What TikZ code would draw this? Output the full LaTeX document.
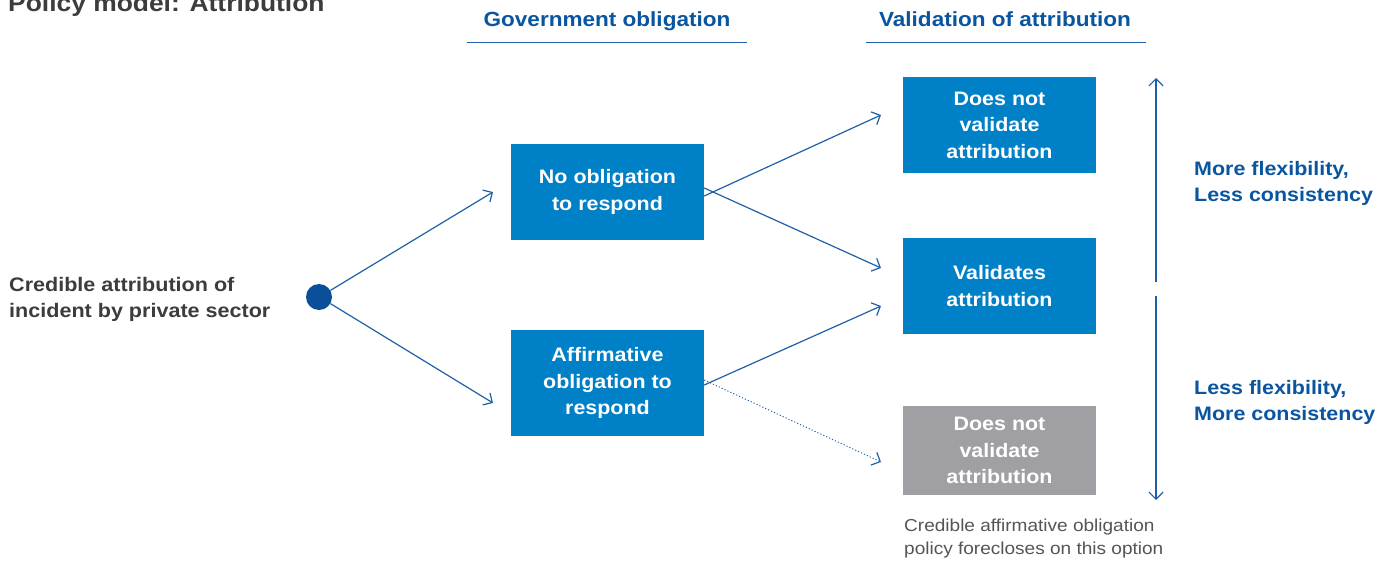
\documentclass[tikz,border=0pt]{standalone}
\usepackage{fontspec}
\setmainfont{Liberation Sans}[FakeStretch=1.1]
\usetikzlibrary{arrows.meta}
\definecolor{boxblue}{HTML}{0080C6}
\definecolor{boxgray}{HTML}{A0A0A4}
\definecolor{linkblue}{HTML}{1F5FA8}
\definecolor{dotblue}{HTML}{0A4F9A}
\definecolor{headblue}{HTML}{0A55A0}
\definecolor{darktext}{HTML}{3C3C3C}
\definecolor{notegray}{HTML}{555555}
\tikzset{
  stepbox/.style={fill=boxblue, text=white, minimum width=193pt, align=center, inner sep=0pt,
    font=\fontsize{19.5}{26.5}\selectfont\bfseries},
  graybox/.style={stepbox, fill=boxgray},
  link/.style={draw=linkblue, line width=1.2pt, -{Straight Barb[length=7pt,width=14pt,line width=1.2pt]}},
  header/.style={text=headblue, font=\fontsize{20.5}{24}\selectfont\bfseries, anchor=base},
  rule/.style={draw=linkblue, line width=0.8pt},
  sidelabel/.style={text=headblue, font=\fontsize{19.5}{26.5}\selectfont\bfseries, align=left, anchor=north west, inner sep=0pt},
}
\begin{document}
\begin{tikzpicture}[x=1pt,y=-1pt]
\useasboundingbox (0,0) rectangle (1393,560);
% title (cropped as in the reference)
\node[anchor=base west, inner sep=0pt, text=darktext, font=\fontsize{24}{28}\selectfont\bfseries] (title) at (8,11) {Policy model: Attribution};
% headers
\node[header] (h1) at (607,26) {Government obligation};
\node[header] (h2) at (1005,26) {Validation of attribution};
\coordinate (h1a) at (467,42); \coordinate (h1b) at (747,42);
\coordinate (h2a) at (866,42); \coordinate (h2b) at (1146,42);
\draw[rule] (h1a) -- (h1b);
\draw[rule] (h2a) -- (h2b);
% start
\node[anchor=north west, inner sep=0pt, align=left, text=darktext, font=\fontsize{19.6}{26.5}\selectfont\bfseries] (src) at (9,277) {Credible attribution of\\incident by private sector};
\node[circle, fill=dotblue, minimum size=26pt, inner sep=0pt] (dot) at (319,297) {};
% boxes
\node[stepbox, minimum height=96pt] (no) at (607.5,192) {No obligation\\to respond};
\node[stepbox, minimum height=106pt] (aff) at (607.5,383) {Affirmative\\obligation to\\respond};
\node[stepbox, minimum height=96pt] (dnv) at (999.5,125) {Does not\\validate\\attribution};
\node[stepbox, minimum height=96pt] (val) at (999.5,286) {Validates\\attribution};
\node[graybox, minimum height=89pt] (dnv2) at (999.5,450.5) {Does not\\validate\\attribution};
% arrows
\coordinate (e1) at (493,192);
\coordinate (e2) at (493,403);
\coordinate (e3) at (881,115);
\coordinate (e4) at (881,268);
\coordinate (e5) at (881,306);
\coordinate (e6) at (881,462);
\draw[link] (dot.30) -- (e1);
\draw[link] (dot.-30) -- (e2);
\draw[link] ([yshift=-4pt]no.east) -- (e3);
\draw[link] ([yshift=4pt]no.east) -- (e4);
\draw[link] ([yshift=-2pt]aff.east) -- (e5);
\draw[link, dotted, line width=0.9pt] ([yshift=3pt]aff.east) -- (e6);
% scale arrow
\coordinate (s0) at (1156,282);
\coordinate (s1) at (1156,78);
\coordinate (s2) at (1156,296);
\coordinate (s3) at (1156,500);
\draw[link] (s0) -- (s1);
\draw[link] (s2) -- (s3);
\node[sidelabel] (more) at (1194,161) {More flexibility,\\Less consistency};
\node[sidelabel] (less) at (1194,380) {Less flexibility,\\More consistency};
% note
\node[anchor=north west, inner sep=0pt, align=left, text=notegray, font=\fontsize{17.3}{23}\selectfont] (note) at (904,519) {Credible affirmative obligation\\policy forecloses on this option};
\end{tikzpicture}
\end{document}
